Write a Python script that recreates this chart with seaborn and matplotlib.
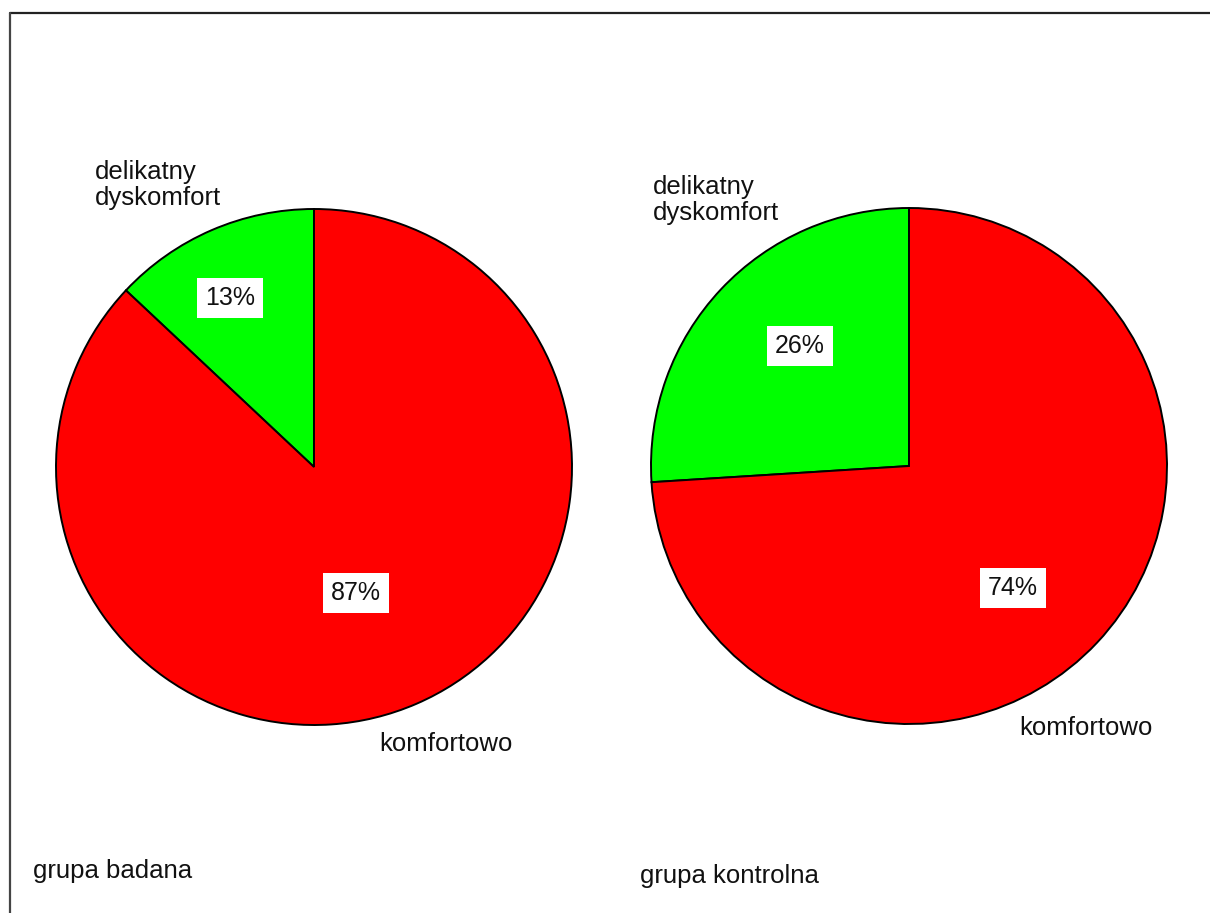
import matplotlib
matplotlib.use("Agg")
import matplotlib.pyplot as plt
import seaborn as sns
from matplotlib.lines import Line2D

# Data
categories = ["delikatny\ndyskomfort", "komfortowo"]
grupa_badana = [13, 87]
grupa_kontrolna = [26, 74]
group_titles = ["grupa badana", "grupa kontrolna"]
slice_colors = ["#00ff00", "#ff0000"]

sns.set_theme(style="white")
plt.rcParams["font.family"] = ["Liberation Sans", "DejaVu Sans"]

W, H = 1210, 913
fig = plt.figure(figsize=(W / 100, H / 100), dpi=100)
fig.patch.set_facecolor("white")


def fx(x):
    return x / W


def fy(y):
    return 1 - y / H


def draw_pie(values, cx, cy, r, pct_pos):
    ax = fig.add_axes([fx(cx - r), fy(cy + r), 2 * r / W, 2 * r / H])
    ax.pie(values, colors=slice_colors, startangle=90, counterclock=True,
           wedgeprops=dict(edgecolor="black", linewidth=1.4))
    ax.set_xlim(-1, 1)
    ax.set_ylim(-1, 1)
    ax.set_aspect("equal")
    ax.axis("off")
    for v, (px, py) in zip(values, pct_pos):
        ax.text((px - cx) / r, (cy - py) / r, f"{v}%", ha="center", va="center",
                fontsize=18, color="#111111",
                bbox=dict(facecolor="white", edgecolor="none", pad=6))
    return ax


draw_pie(grupa_badana, 314, 467, 258, [(230, 298), (356, 593)])
draw_pie(grupa_kontrolna, 909, 466, 258, [(800, 346), (1013, 588)])

label_style = dict(fontsize=18.5, color="#111111", ha="left", va="top", linespacing=1.1)

# slice names
fig.text(fx(95), fy(160), categories[0], **label_style)
fig.text(fx(379), fy(732), categories[1], **label_style)
fig.text(fx(653), fy(175), categories[0], **label_style)
fig.text(fx(1019), fy(716), categories[1], **label_style)

# group captions
fig.text(fx(33), fy(859), group_titles[0], **label_style)
fig.text(fx(640), fy(864), group_titles[1], **label_style)

# frame lines along the top and left edges
fig.add_artist(Line2D([fx(10), fx(1210)], [fy(13), fy(13)], color="#222222", lw=1.6,
                      transform=fig.transFigure))
fig.add_artist(Line2D([fx(10), fx(10)], [fy(13), fy(913)], color="#444444", lw=1.6,
                      transform=fig.transFigure))

fig.savefig("out.png", dpi=100)
